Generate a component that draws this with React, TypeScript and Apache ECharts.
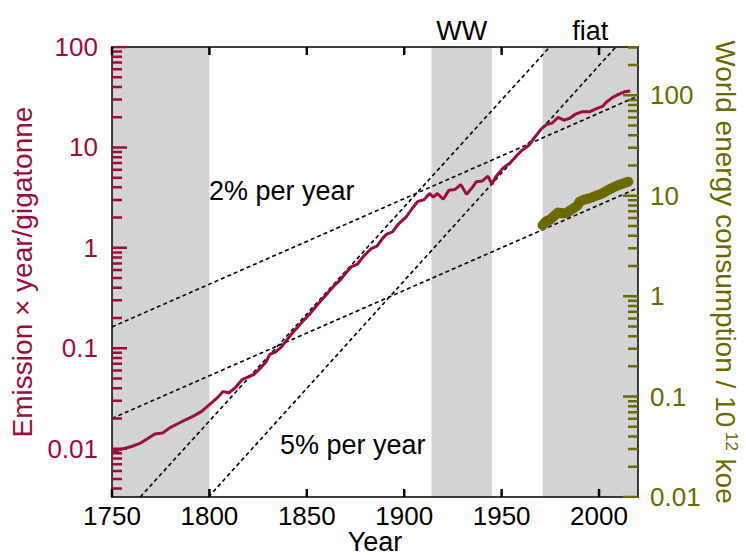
import { useEffect, useRef } from 'react';
import * as echarts from 'echarts';

// ---- data ----
const emissionYears = [
  1750, 1752, 1756, 1760, 1764, 1768, 1772, 1776, 1780, 1784, 1788, 1792, 1796, 1800,
  1804, 1807, 1810, 1813, 1817, 1820, 1823, 1826, 1829, 1831, 1834, 1837, 1840, 1843,
  1846, 1849, 1852, 1855, 1858, 1861, 1864, 1867, 1870, 1873, 1876, 1879, 1883, 1886,
  1889, 1891, 1894, 1897, 1901, 1904, 1907, 1910, 1913, 1915, 1917, 1920, 1923, 1926,
  1929, 1932, 1935, 1937, 1940, 1943, 1945, 1947, 1951, 1954, 1957, 1960, 1964, 1967,
  1970, 1973, 1976, 1979, 1982, 1985, 1988, 1991, 1995, 1999, 2002, 2004, 2007, 2010,
  2013, 2016,
];
const emissionValues = [
  0.0094, 0.0095, 0.01, 0.0105, 0.0112, 0.0125, 0.014, 0.0143, 0.0163, 0.0178, 0.0195,
  0.0212, 0.0235, 0.0275, 0.032, 0.037, 0.036, 0.04, 0.049, 0.052, 0.055, 0.063, 0.073,
  0.087, 0.092, 0.103, 0.123, 0.145, 0.168, 0.195, 0.225, 0.265, 0.31, 0.36, 0.42, 0.475,
  0.56, 0.65, 0.69, 0.82, 0.98, 1.04, 1.25, 1.37, 1.44, 1.72, 2.03, 2.45, 2.9, 3.0, 3.48,
  3.2, 3.48, 3.05, 3.75, 3.8, 4.27, 3.42, 4.0, 4.55, 4.62, 5.18, 4.3, 5.1, 6.3, 6.9, 8.0,
  9.2, 10.5, 12.6, 15.0, 16.9, 17.5, 19.9, 18.7, 19.5, 21.5, 22.6, 22.6, 24.5, 25.8, 28.5,
  31.5, 33.8, 35.8, 36.4,
];
const energyYears = [
  1971, 1973, 1975, 1977, 1979, 1981, 1983, 1985, 1987, 1989, 1990, 1992, 1995, 1998,
  2001, 2004, 2007, 2010, 2013, 2015,
];
const energyValues = [
  5.1, 5.6, 5.8, 6.3, 6.8, 6.7, 6.7, 7.1, 7.5, 8.0, 8.7, 9.1, 9.4, 9.9, 10.4, 11.2, 12.0,
  12.8, 13.4, 13.8,
];
const trend2pctUpper = [[1750, 0.163], [2020, 32.5]];
const trend2pctLower = [[1750, 0.02], [2020, 3.95]];
const trend5pctUpper = [[1764.5, 0.0033], [1974.7, 100]];
const trend5pctLower = [[1799.5, 0.0033], [2008.6, 100]];
const shadedPeriods = [
  { from: 1750, to: 1800, label: '' },
  { from: 1914, to: 1945, label: 'WW' },
  { from: 1971, to: 2020, label: 'fiat' },
];
const xRange = [1750, 2020];
const xTickLabels = ['1750', '1800', '1850', '1900', '1950', '2000'];
const leftRange = [0.0033, 100];
const leftTickLabels = ['0.01', '0.1', '1', '10', '100'];
const rightRange = [0.01, 303];
const rightTickLabels = ['0.01', '0.1', '1', '10', '100'];
const annotations = [
  { text: '2% per year', x: 209, y: 191 },
  { text: '5% per year', x: 280, y: 445 },
];

const RED = '#9b0d3e';
const OLIVE = '#6b6a00';
const FONT = 'Liberation Sans';
const lg = Math.log10;

function minorTicks(range: number[]) {
  const out: number[] = [];
  for (let e = Math.floor(lg(range[0])); e <= Math.ceil(lg(range[1])); e++) {
    for (let m = 2; m <= 9; m++) {
      const v = m * Math.pow(10, e);
      if (v > range[0] && v < range[1]) out.push(lg(v));
    }
  }
  return out;
}

function labelFormatter(labels: string[]) {
  return (v: number) => {
    const i = labels.findIndex((s) => Math.abs(lg(parseFloat(s)) - v) < 1e-6);
    return i >= 0 ? labels[i] : '';
  };
}

function toLogPairs(pairs: number[][]) {
  return pairs.map((p) => [p[0], lg(p[1])]);
}

// tick marks: one line series per side, segments separated by gaps,
// positioned through the axes' own scales
function tickSeries(segments: number[][][], color: string, yAxisIndex: number) {
  const data: any[] = [];
  segments.forEach((seg, i) => {
    if (i > 0) data.push('-');
    data.push(seg[0], seg[1]);
  });
  return {
    type: 'line',
    xAxisIndex: 0,
    yAxisIndex,
    silent: true,
    z: 6,
    data,
    connectNulls: false,
    showSymbol: false,
    symbol: 'none',
    lineStyle: { color, width: 2.5 },
  };
}

export default function App() {
  const ref = useRef<HTMLDivElement>(null);
  useEffect(() => {
    if (!ref.current) return;
    const chart = echarts.init(ref.current, undefined, { renderer: 'svg' });
    const axisLine = { show: true, onZero: false, lineStyle: { color: '#000', width: 1.5 } };
    const leftLog = [lg(leftRange[0]), lg(leftRange[1])];
    const rightLog = [lg(rightRange[0]), lg(rightRange[1])];
    // plot is 526 px wide for 270 years, 450 px tall for 4.4815 decades
    const pxToYears = (px: number) => (px * (xRange[1] - xRange[0])) / 526;
    const pxToDecades = (px: number) => (px * (leftLog[1] - leftLog[0])) / 450;
    const yMajor = (rangeLog: number[], labels: string[], color: string, position: string, name: string, rotate: number, gap: number, margin: number) => ({
      type: 'value',
      position,
      min: rangeLog[0],
      max: rangeLog[1],
      splitLine: { show: false },
      axisLine,
      axisTick: { show: false },
      axisLabel: {
        customValues: labels.map((s) => lg(parseFloat(s))),
        formatter: labelFormatter(labels),
        color,
        fontSize: 26,
        fontFamily: FONT,
        margin,
      },
      name,
      nameLocation: 'middle',
      nameGap: gap,
      nameRotate: rotate,
      nameTextStyle: {
        color,
        fontSize: 28,
        fontFamily: FONT,
        rich: { s: { color, fontSize: 17, fontFamily: FONT, verticalAlign: 'top' } },
      },
      z: 3,
    });
    const dashed = (pairs: number[][]) => ({
      type: 'line',
      xAxisIndex: 0,
      yAxisIndex: 0,
      data: toLogPairs(pairs),
      showSymbol: false,
      symbol: 'none',
      lineStyle: { color: '#000', width: 1.6, type: [4, 3] },
      z: 4,
      silent: true,
    });
    const xTickValues = xTickLabels.map((s) => parseFloat(s));
    const leftSegs: number[][][] = [];
    leftTickLabels.forEach((s) => { const v = lg(parseFloat(s)); leftSegs.push([[xRange[0], v], [xRange[0] + pxToYears(15), v]]); });
    minorTicks(leftRange).forEach((v) => leftSegs.push([[xRange[0], v], [xRange[0] + pxToYears(10), v]]));
    const rightSegs: number[][][] = [];
    rightTickLabels.forEach((s) => { const v = lg(parseFloat(s)); rightSegs.push([[xRange[1], v], [xRange[1] - pxToYears(15), v]]); });
    minorTicks(rightRange).forEach((v) => rightSegs.push([[xRange[1], v], [xRange[1] - pxToYears(10), v]]));
    const xSegs: number[][][] = [];
    xTickValues.forEach((v) => {
      xSegs.push([[v, leftLog[0]], [v, leftLog[0] + pxToDecades(8)]]);
      xSegs.push([[v, leftLog[1]], [v, leftLog[1] - pxToDecades(8)]]);
    });
    chart.setOption({
      animation: false,
      textStyle: { fontFamily: FONT },
      grid: { left: 112, right: 108, top: 47, bottom: 58, outerBoundsMode: 'none', containLabel: false },
      xAxis: [
        {
          type: 'value',
          position: 'bottom',
          min: xRange[0],
          max: xRange[1],
          interval: 50,
          axisLine,
          axisTick: { show: false },
          axisLabel: {
            formatter: (v: number) => (xTickLabels.includes(String(v)) ? String(v) : ''),
            color: '#000',
            fontSize: 26,
            fontFamily: FONT,
            margin: 6,
          },
          splitLine: { show: false },
          name: 'Year',
          nameLocation: 'middle',
          nameGap: 31,
          nameMoveOverlap: false,
          nameTextStyle: { color: '#000', fontSize: 27, fontFamily: FONT },
          z: 3,
        },
        {
          type: 'value',
          position: 'top',
          min: xRange[0],
          max: xRange[1],
          interval: 50,
          axisLine,
          axisTick: { show: false },
          axisLabel: { show: false },
          splitLine: { show: false },
          z: 3,
        },
      ],
      yAxis: [
        yMajor(leftLog, leftTickLabels, RED, 'left', 'Emission × year/gigatonne', 90, 72, 14),
        { type: 'value', show: false, min: leftLog[0], max: leftLog[1] },
        yMajor(rightLog, rightTickLabels, OLIVE, 'right', 'World energy consumption / 10{s| 12} koe', -90, 68, 12),
      ],
      series: [
        {
          type: 'line',
          xAxisIndex: 0,
          yAxisIndex: 0,
          data: [],
          z: 0,
          silent: true,
          markArea: {
            silent: true,
            z: 0,
            itemStyle: { color: '#d3d3d3' },
            label: { show: true, position: 'top', distance: 3, color: '#000', fontSize: 27, fontFamily: FONT },
            data: shadedPeriods.map((p) => [{ xAxis: p.from, name: p.label }, { xAxis: p.to }]),
          },
        },
        dashed(trend2pctUpper),
        dashed(trend2pctLower),
        dashed(trend5pctUpper),
        dashed(trend5pctLower),
        {
          type: 'line',
          name: 'Emission',
          xAxisIndex: 0,
          yAxisIndex: 0,
          data: emissionYears.map((y, i) => [y, lg(emissionValues[i])]),
          showSymbol: false,
          symbol: 'none',
          lineStyle: { color: RED, width: 3 },
          z: 5,
        },
        {
          type: 'line',
          name: 'Energy',
          xAxisIndex: 0,
          yAxisIndex: 2,
          data: energyYears.map((y, i) => [y, lg(energyValues[i])]),
          showSymbol: false,
          symbol: 'none',
          lineStyle: { color: OLIVE, width: 10, cap: 'round', join: 'round' },
          z: 5,
        },
        tickSeries(leftSegs, RED, 0),
        tickSeries(rightSegs, OLIVE, 2),
        tickSeries(xSegs, '#000', 0),
      ],
      graphic: annotations.map((a) => ({
        type: 'text',
        x: a.x,
        y: a.y,
        style: { text: a.text, fill: '#000', fontSize: 27, fontFamily: FONT, verticalAlign: 'middle' },
        z: 10,
      })),
    });
    return () => chart.dispose();
  }, []);
  return <div ref={ref} style={{ position: 'absolute', left: 0, top: 0, width: 746, height: 555 }} />;
}
